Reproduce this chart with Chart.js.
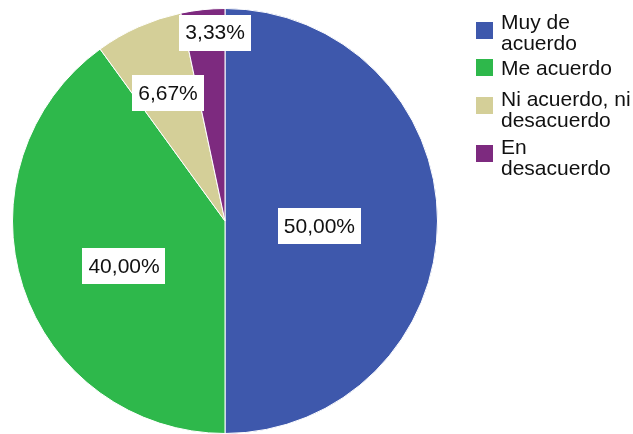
<!DOCTYPE html>
<html>
<head>
<meta charset="utf-8">
<script src="https://cdn.jsdelivr.net/npm/chart.js@4.4.1/dist/chart.umd.min.js"></script>
<style>
html,body{margin:0;padding:0;background:#fff;}
#wrap{width:633px;height:434px;position:relative;}
</style>
</head>
<body>
<div id="wrap"><canvas id="c" width="633" height="434"></canvas></div>
<script>
const categories = ["Muy de acuerdo", "Me acuerdo", "Ni acuerdo, ni desacuerdo", "En desacuerdo"];
const values = [50.00, 40.00, 6.67, 3.33];
const valueLabels = ["50,00%", "40,00%", "6,67%", "3,33%"];
const colors = ["#3e58ac", "#2eb84b", "#d4cf98", "#7d2a7f"];

const FONT = '21px "Liberation Sans", Arial, sans-serif';

const sliceLabels = {
  id: 'sliceLabels',
  afterDatasetsDraw(chart, args, opts) {
    const ctx = chart.ctx;
    const meta = chart.getDatasetMeta(0);
    ctx.save();
    ctx.font = FONT;
    ctx.textAlign = 'center';
    ctx.textBaseline = 'middle';
    meta.data.forEach((arc, i) => {
      const p = arc.getProps(['x','y','startAngle','endAngle','outerRadius'], true);
      const mid = (p.startAngle + p.endAngle) / 2 + (opts.angleAdj[i] || 0) * Math.PI / 180;
      const r = p.outerRadius * opts.radial[i];
      const cx = p.x + Math.cos(mid) * r;
      const cy = p.y + Math.sin(mid) * r;
      const txt = valueLabels[i];
      const w = ctx.measureText(txt).width + 12;
      const h = 36;
      ctx.fillStyle = '#ffffff';
      ctx.fillRect(Math.round(cx - w / 2), Math.round(cy - h / 2), Math.round(w), h);
      ctx.fillStyle = '#111111';
      ctx.fillText(txt, cx, cy + 1);
    });
    ctx.restore();
  }
};

function wrap(ctx, text, maxW) {
  const words = text.split(' ');
  const lines = [];
  let cur = '';
  words.forEach(w => {
    const t = cur ? cur + ' ' + w : w;
    if (ctx.measureText(t).width > maxW && cur) { lines.push(cur); cur = w; }
    else cur = t;
  });
  if (cur) lines.push(cur);
  return lines;
}

const sideLegend = {
  id: 'sideLegend',
  afterDraw(chart, args, opts) {
    const ctx = chart.ctx;
    ctx.save();
    ctx.font = FONT;
    ctx.textBaseline = 'alphabetic';
    chart.data.labels.forEach((lab, i) => {
      const lines = wrap(ctx, lab, opts.maxWidth);
      let y = opts.baselines[i];
      ctx.fillStyle = '#111111';
      lines.forEach(ln => {
        ctx.fillText(ln, opts.textX, y);
        y += opts.lineHeight;
      });
      ctx.fillStyle = chart.data.datasets[0].backgroundColor[i];
      ctx.fillRect(opts.boxX, opts.boxTops[i], 17, 17);
    });
    ctx.restore();
  }
};

new Chart(document.getElementById('c'), {
  type: 'pie',
  data: {
    labels: categories,
    datasets: [{
      data: values,
      backgroundColor: colors,
      borderColor: '#ffffff',
      borderWidth: 1
    }]
  },
  options: {
    responsive: false,
    animation: false,
    layout: { padding: { left: 12, top: 8, right: 195, bottom: 0 } },
    plugins: {
      legend: { display: false },
      tooltip: { enabled: false },
      sliceLabels: { radial: [0.445, 0.52, 0.66, 0.888], angleAdj: [3, -6, 0, 3] },
      sideLegend: { baselines: [29, 75, 106, 154], boxTops: [22, 59, 97, 145], textX: 501, boxX: 476, maxWidth: 135, lineHeight: 21 }
    }
  },
  plugins: [sliceLabels, sideLegend]
});
</script>
</body>
</html>
